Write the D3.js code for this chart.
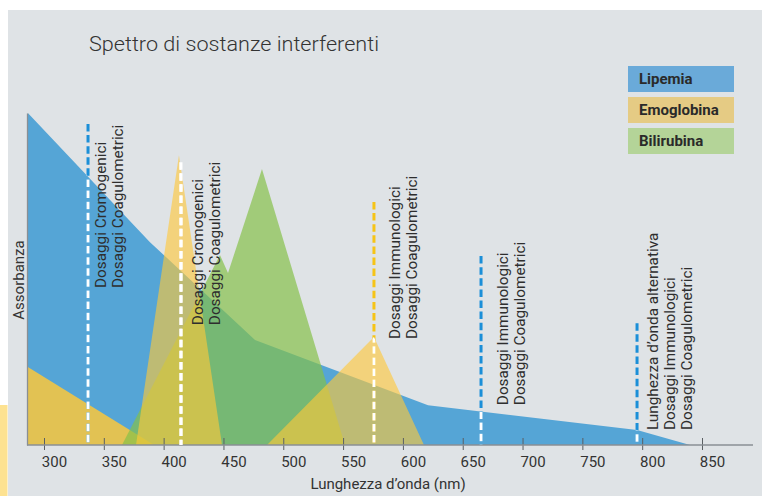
<!DOCTYPE html>
<html><head><meta charset="utf-8">
<script src="https://cdn.jsdelivr.net/npm/d3@7"></script>
<style>
body{margin:0;background:#fff;}
svg{display:block;font-family:Roboto,"DejaVu Sans",sans-serif;}
</style>
</head><body>
<svg id="c" width="762" height="496"></svg>
<script>
// ---------------- data ----------------
const title = "Spettro di sostanze interferenti";
const xTitle = "Lunghezza d’onda (nm)";
const yTitle = "Assorbanza";
const seriesNames = ["Lipemia", "Emoglobina", "Bilirubina"];

const lipemiaNm  = [286.5, 388.6, 476.4, 621.0, 795.7, 840.0];
const lipemiaAbs = [100,   61.1,  31.6,  12.0,  4.5,   0];

const emoglobinaLowNm  = [286.5, 392.0];
const emoglobinaLowAbs = [23.5,  0];

const emoglobinaNm  = [376.9, 412.8, 448.8, 486.4, 575.8, 617.6];
const emoglobinaAbs = [0,     87.3,  0,     0,     32.5,  0];

const bilirubinaNm  = [365.2, 447.1, 453.8, 482.2, 551.6];
const bilirubinaAbs = [0,     57.2,  51.8,  83.1,  0];

const markerNm  = [336.8, 414.5, 575.8, 665.3, 795.7];
const markerTop = [96.7,  85.2,  73.2,  56.9,  36.7];
const markerTextStart = [47.3, 36.1, 31.9, 12.0, 4.5];
const markerLabels = [
  ["Dosaggi Cromogenici", "Dosaggi Coagulometrici"],
  ["Dosaggi Cromogenici", "Dosaggi Coagulometrici"],
  ["Dosaggi Immunologici", "Dosaggi Coagulometrici"],
  ["Dosaggi Immunologici", "Dosaggi Coagulometrici"],
  ["Lunghezza d’onda alternativa", "Dosaggi Immunologici", "Dosaggi Coagulometrici"]
];
const xTicks = [300, 350, 400, 450, 500, 550, 600, 650, 700, 750, 800, 850];

// ---------------- layout / styles ----------------
const W = 762, H = 496;
const plot = {left: 27, right: 753, top: 113, bottom: 445};
const markerColors = ["#1b8fd8", "#ffffff", "#f6c417", "#1b8fd8", "#1b8fd8"];
const markerTextOffset = [18, 22, 26, 27, 21];
const legendColors = ["#6aaad9", "#e5cb84", "#b4d498"];

const svg = d3.select("#c");

// background panels
svg.append("rect").attr("x", 8).attr("y", 10).attr("width", W - 8).attr("height", H - 10).attr("fill", "#dfe3e6");
svg.append("rect").attr("x", 0).attr("y", 405).attr("width", 7.5).attr("height", H - 405).attr("fill", "#fde291");

const x = d3.scaleLinear().domain([300, 850]).range([44, 702]);
const y = d3.scaleLinear().domain([0, 100]).range([plot.bottom, plot.top]);

const area = d3.area().x(d => x(d[0])).y0(y(0)).y1(d => y(d[1]));
const zip = (a, b) => a.map((v, i) => [v, b[i]]);

const layers = [
  {pts: zip(lipemiaNm, lipemiaAbs), fill: "#55a5d6", op: 1},
  {pts: zip(emoglobinaLowNm, emoglobinaLowAbs), fill: "#ffc838", op: 0.83},
  {pts: zip(bilirubinaNm, bilirubinaAbs), fill: "#85c048", op: 0.69},
  {pts: zip(emoglobinaNm, emoglobinaAbs), fill: "#ffc838", op: 0.62}
];

const defs = svg.append("defs");
const clip = defs.append("clipPath").attr("id", "fillclip");
layers.forEach(l => clip.append("path").attr("d", area(l.pts)));

const g = svg.append("g");
layers.forEach(l => g.append("path").attr("d", area(l.pts)).attr("fill", l.fill).attr("fill-opacity", l.op));

// axes
const xAxis = d3.axisBottom(x).tickValues(xTicks).tickSizeOuter(0).tickSizeInner(5).tickPadding(8);
const xg = svg.append("g").attr("transform", `translate(0,${plot.bottom})`).call(xAxis);
xg.select(".domain").remove();
xg.selectAll(".tick line").attr("y1", -7).attr("y2", 5).attr("stroke", "#5a5f63").attr("stroke-width", 1);
xg.selectAll(".tick text").attr("font-size", 15).attr("fill", "#333").attr("font-family", "Roboto").attr("dx", 10).attr("y", 11);
svg.append("line").attr("x1", plot.left).attr("x2", plot.right).attr("y1", plot.bottom).attr("y2", plot.bottom)
  .attr("stroke", "#8a8f94").attr("stroke-width", 1.3);
const yAxis = d3.axisLeft(y).tickValues([]).tickSizeOuter(0);
const yg = svg.append("g").attr("transform", `translate(${plot.left},0)`).call(yAxis);
yg.select(".domain").attr("stroke", "#8a8f94").attr("stroke-width", 1.3);

// markers
const dash = "7.5,3.6";
markerNm.forEach((nm, i) => {
  const mx = x(nm);
  svg.append("line").attr("x1", mx).attr("x2", mx).attr("y1", y(markerTop[i])).attr("y2", y(0))
    .attr("stroke", markerColors[i]).attr("stroke-width", 3).attr("stroke-dasharray", dash);
  svg.append("line").attr("x1", mx).attr("x2", mx).attr("y1", y(markerTop[i])).attr("y2", y(0))
    .attr("stroke", "#ffffff").attr("stroke-width", 3).attr("stroke-dasharray", dash)
    .attr("clip-path", "url(#fillclip)");
  const ty = y(markerTextStart[i]);
  markerLabels[i].forEach((lab, j) => {
    const tx = mx + markerTextOffset[i] + j * 17;
    svg.append("text").attr("transform", `translate(${tx},${ty}) rotate(-90)`)
      .attr("font-size", 15.3).attr("fill", "#2e2e2e").text(lab);
  });
});

// titles
svg.append("text").attr("x", 89).attr("y", 51).attr("font-size", 20.5).attr("fill", "#333").attr("font-weight", 300)
  .attr("textLength", 290).attr("lengthAdjust", "spacingAndGlyphs").text(title);
svg.append("text").attr("x", 388).attr("y", 489).attr("text-anchor", "middle").attr("font-size", 15).attr("fill", "#333").text(xTitle);
svg.append("text").attr("transform", `translate(24,280) rotate(-90)`).attr("text-anchor", "middle")
  .attr("font-size", 15).attr("fill", "#333").text(yTitle);

// legend
const lg = svg.append("g");
seriesNames.forEach((n, i) => {
  const ly = 66 + i * 31;
  lg.append("rect").attr("x", 628).attr("y", ly).attr("width", 106).attr("height", 26).attr("fill", legendColors[i]);
  lg.append("text").attr("x", 639).attr("y", ly + 18).attr("font-size", 15).attr("font-weight", "bold").attr("fill", "#2a2a2a").text(n);
});
</script>
</body></html>
